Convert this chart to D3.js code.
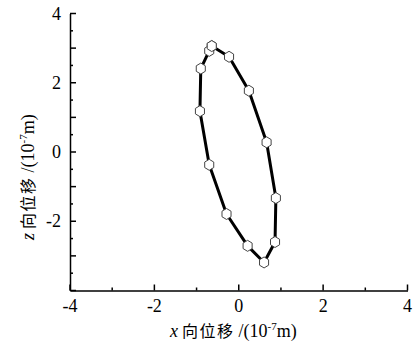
<!DOCTYPE html>
<html><head><meta charset="utf-8">
<script src="https://cdn.jsdelivr.net/npm/d3@7"></script>
<style>body{margin:0;background:#fff}</style>
</head><body><svg id="c" width="419" height="344"></svg>
<script>
const xVals = [-0.64, -0.23, 0.24, 0.66, 0.88, 0.86, 0.60, 0.21, -0.29, -0.70, -0.92, -0.90, -0.70, -0.64];
const zVals = [3.06, 2.75, 1.77, 0.28, -1.33, -2.60, -3.19, -2.71, -1.79, -0.37, 1.18, 2.41, 2.92, 3.06];
const xTickLabels = [-4, -2, 0, 2, 4];
const yTickLabels = [-2, 0, 2, 4];

const svg = d3.select("#c");
const L = 70, R = 407.5, T = 13.5, B = 290.5;
const x = d3.scaleLinear().domain([-4, 4]).range([L, R]);
const y = d3.scaleLinear().domain([-4, 4]).range([B, T]);
const serif = "'Liberation Serif','Times New Roman',serif";
const cjk = "'Noto Sans CJK SC',sans-serif";

// axes
const gx = svg.append("g").attr("transform", `translate(0,${B})`).call(d3.axisBottom(x).tickValues([]).tickSize(0));
gx.select(".domain").attr("stroke", "#000").attr("stroke-width", 1.5);
const gy = svg.append("g").attr("transform", `translate(${L},0)`).call(d3.axisLeft(y).tickValues([]).tickSize(0));
gy.select(".domain").attr("stroke", "#000").attr("stroke-width", 1.5);

// inward ticks
d3.range(-4, 4.01, 1).forEach(v => {
  const major = Math.abs(v % 2) < 1e-9;
  svg.append("line").attr("x1", x(v)).attr("x2", x(v)).attr("y1", B).attr("y2", B - (major ? 6 : 3))
    .attr("stroke", "#000").attr("stroke-width", 1.5);
});
d3.range(-4, 4.01, 0.5).forEach(v => {
  const major = Math.abs(v % 1) < 1e-9;
  svg.append("line").attr("x1", L).attr("x2", L + (major ? 6 : 3)).attr("y1", y(v)).attr("y2", y(v))
    .attr("stroke", "#000").attr("stroke-width", 1.5);
});

// tick labels
svg.selectAll(".xl").data(xTickLabels).enter().append("text")
  .attr("x", d => x(d)).attr("y", 312).attr("text-anchor", "middle")
  .attr("font-family", serif).attr("font-size", 18).text(d => d);
svg.selectAll(".yl").data(yTickLabels).enter().append("text")
  .attr("x", 61).attr("y", d => y(d) + 6).attr("text-anchor", "end")
  .attr("font-family", serif).attr("font-size", 18).text(d => d);

// axis titles
function title(sel, letter) {
  sel.append("tspan").attr("font-style", "italic").text(letter);
  sel.append("tspan").attr("dx", 4).attr("font-family", cjk).attr("font-size", 16)
    .attr("letter-spacing", 1.5).text("向位移");
  sel.append("tspan").attr("dx", 4).text("/(10");
  sel.append("tspan").attr("font-size", 11).attr("dy", -7).text("-7");
  sel.append("tspan").attr("dy", 7).text("m)");
}
const xt = svg.append("text").attr("x", 170).attr("y", 337).attr("font-size", 18).attr("font-family", serif);
title(xt, "x");
const yt = svg.append("text").attr("transform", "translate(34,240) rotate(-90)").attr("font-size", 18).attr("font-family", serif);
title(yt, "z");

// line
const pts = xVals.map((v, i) => [v, zVals[i]]);
svg.append("path").datum(pts)
  .attr("d", d3.line().x(d => x(d[0])).y(d => y(d[1])))
  .attr("fill", "none").attr("stroke", "#000").attr("stroke-width", 3).attr("stroke-linejoin", "round");

// hexagon markers
const r = 5.5;
const hex = d3.range(6).map(k => {
  const a = Math.PI / 2 + k * Math.PI / 3;
  return [r * Math.cos(a) * 0.95, r * Math.sin(a)];
});
const hexPath = "M" + hex.map(p => p.join(",")).join("L") + "Z";
svg.selectAll(".m").data(pts).enter().append("path")
  .attr("d", hexPath)
  .attr("transform", d => `translate(${x(d[0])},${y(d[1])})`)
  .attr("fill", "#fff").attr("stroke", "#444").attr("stroke-width", 1);
</script></body></html>
